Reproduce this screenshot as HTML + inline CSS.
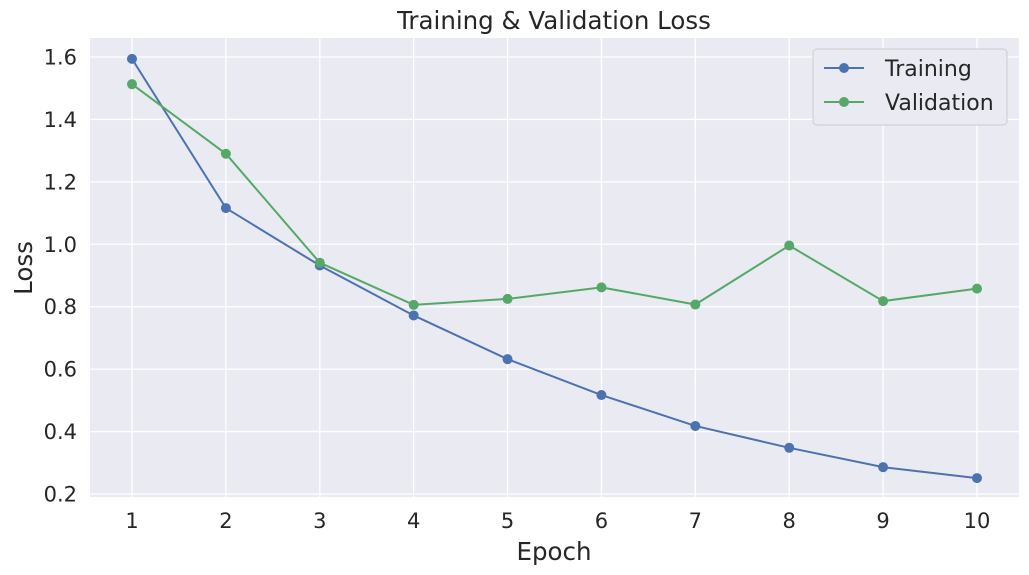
<!DOCTYPE html>
<html><head><meta charset="utf-8"><style>
html,body{margin:0;padding:0;background:#fff;}
svg{display:block;font-family:"DejaVu Sans","Liberation Sans",sans-serif;}
</style></head><body>
<svg id="chart" width="1029" height="575" viewBox="0 0 1029 575">
<rect x="90" y="38" width="929" height="459" fill="#eaeaf2"/>
<g id="grid"></g>
<g id="series"></g>
<text x="554" y="29" text-anchor="middle" font-size="24.5" fill="#262626">Training &amp; Validation Loss</text>
<text x="554" y="560" text-anchor="middle" font-size="24.5" fill="#262626">Epoch</text>
<text transform="translate(32,268) rotate(-90)" text-anchor="middle" font-size="24.5" fill="#262626">Loss</text>
<g>
<rect x="813" y="49" width="194" height="76" rx="4" fill="#eaeaf2" stroke="#cccccc"/>
<g>
<line x1="824" y1="68" x2="864" y2="68" stroke="#4c72b0" stroke-width="2"/>
<circle cx="844" cy="68" r="5" fill="#4c72b0"/>
<text x="885" y="76" font-size="22" fill="#262626">Training</text></g>
<g>
<line x1="824" y1="102" x2="864" y2="102" stroke="#55a868" stroke-width="2"/>
<circle cx="844" cy="102" r="5" fill="#55a868"/>
<text x="885" y="110" font-size="22" fill="#262626">Validation</text></g>
</g>
</svg>
<script>
const epochs=[1,2,3,4,5,6,7,8,9,10];
const trainLoss=[1.594,1.116,0.932,0.772,0.632,0.517,0.418,0.348,0.286,0.251];
const valLoss=[1.513,1.290,0.941,0.806,0.825,0.862,0.807,0.996,0.818,0.858];
const yTicks=[0.2,0.4,0.6,0.8,1.0,1.2,1.4,1.6];
const NS="http://www.w3.org/2000/svg";
function xs(v){return 132+(v-1)*(977-132)/9;}
function ys(v){return 494-(v-0.2)*(494-57)/1.4;}
const grid=document.getElementById('grid');
const ser=document.getElementById('series');
function mk(tag,attrs,parent){const e=document.createElementNS(NS,tag);for(const k in attrs)e.setAttribute(k,attrs[k]);parent.appendChild(e);return e;}
epochs.forEach(e=>{
  const l=mk('line',{x1:xs(e),x2:xs(e),y1:38,y2:497,stroke:'#fff','stroke-width':1.3},grid);
  
  
  const t=mk('text',{x:xs(e),y:528,'text-anchor':'middle','font-size':21,fill:'#262626'},grid);
  t.textContent=e;
  
  
});
yTicks.forEach(v=>{
  const l=mk('line',{x1:90,x2:1019,y1:ys(v),y2:ys(v),stroke:'#fff','stroke-width':1.3},grid);
  
  
  const t=mk('text',{x:77,y:ys(v)+7.5,'text-anchor':'end','font-size':21,fill:'#262626'},grid);
  t.textContent=v.toFixed(1);
  
  
});
function draw(vals,color,name){
  const p=mk('polyline',{points:vals.map((v,i)=>xs(epochs[i])+','+ys(v)).join(' '),fill:'none',stroke:color,'stroke-width':2},ser);
  
  
  vals.forEach((v,i)=>{
    const c=mk('circle',{cx:xs(epochs[i]),cy:ys(v),r:5,fill:color},ser);
    
    
  });
}
draw(trainLoss,'#4c72b0','training');
draw(valLoss,'#55a868','validation');
</script>
</body></html>
